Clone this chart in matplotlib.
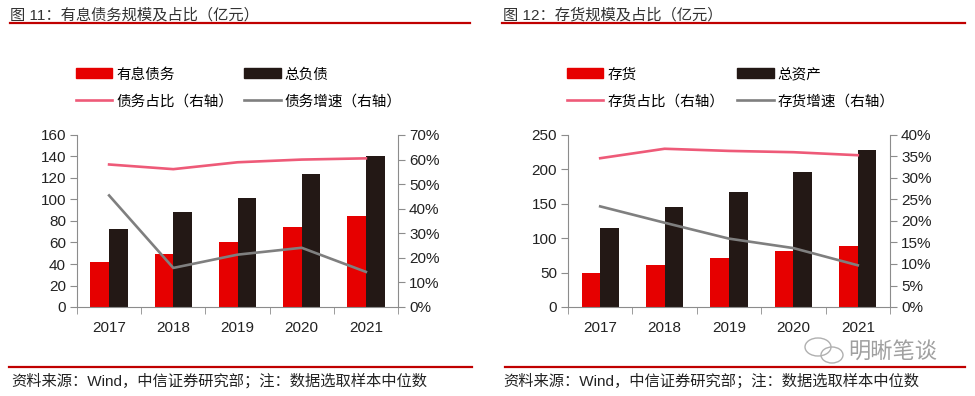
import numpy as np
import matplotlib
matplotlib.use("Agg")
import matplotlib.pyplot as plt
from matplotlib.patches import Patch, Ellipse
from matplotlib.lines import Line2D
from matplotlib.ticker import FuncFormatter, MultipleLocator

plt.rcParams['font.family'] = ['Liberation Sans', 'Noto Sans CJK SC', 'DejaVu Sans']

# 数据
years = ['2017', '2018', '2019', '2020', '2021']

# 图 11
debt = [42, 49, 60, 74, 84.5]
liab = [73, 88, 101.5, 124, 140]
debt_ratio = [58.0, 56.1, 58.9, 60.0, 60.5]
debt_growth = [45.4, 15.9, 21.3, 24.1, 14.3]

# 图 12
inv = [49.5, 61, 71, 82, 89]
assets = [115.5, 145.5, 167, 195.5, 228]
inv_ratio = [34.6, 36.8, 36.3, 36.0, 35.3]
inv_growth = [23.4, 19.6, 15.9, 13.7, 9.7]

RED = '#E60000'
DARK = '#231815'
PINK = '#EE5A78'
GRAY = '#7F7F7F'
AXC = '#8C8C8C'
TITLE_RED = '#C00000'

W, H = 975, 396
fig = plt.figure(figsize=(W / 100, H / 100), dpi=100)


def px(x, y):
    return x / W, 1 - y / H


def panel(x0, x1, bars1, bars2, r1, r2, ymax, ystep, rmax, rstep, names, leg_x, colsp):
    ax = fig.add_axes([x0 / W, 89 / H, (x1 - x0) / W, 172 / H])
    x = np.arange(len(years))
    bw = 0.29
    ax.bar(x - bw / 2, bars1, bw, color=RED, zorder=2)
    ax.bar(x + bw / 2, bars2, bw, color=DARK, zorder=2)
    ax.set_xlim(-0.5, len(years) - 0.5)
    ax.set_ylim(0, ymax)
    ax.yaxis.set_major_locator(MultipleLocator(ystep))
    ax.set_xticks(x)
    ax.set_xticklabels(years)
    ax.set_xticks(np.arange(-0.5, len(years)), minor=True)
    ax.tick_params(axis='x', which='major', length=0, pad=10, labelsize=11, labelcolor='#222222')
    ax.tick_params(axis='x', which='minor', length=5, color=AXC, direction='out')
    ax.tick_params(axis='y', length=5, color=AXC, labelsize=11, pad=3, labelcolor='#222222')
    for s in ['left', 'bottom']:
        ax.spines[s].set_color(AXC)
    ax.spines['top'].set_visible(False)
    ax.spines['right'].set_visible(False)

    ax2 = ax.twinx()
    ax2.plot(x, r1, color=PINK, lw=1.9, zorder=3)
    ax2.plot(x, r2, color=GRAY, lw=1.9, zorder=3)
    ax2.set_ylim(0, rmax)
    ax2.yaxis.set_major_locator(MultipleLocator(rstep))
    ax2.yaxis.set_major_formatter(FuncFormatter(lambda v, p: f'{v:.0f}%'))
    ax2.tick_params(axis='y', length=5, color=AXC, labelsize=11, pad=3, labelcolor='#222222')
    ax2.spines['top'].set_visible(False)
    ax2.spines['left'].set_visible(False)
    ax2.spines['bottom'].set_visible(False)
    ax2.spines['right'].set_color(AXC)

    handles = [Patch(color=RED), Line2D([], [], color=PINK, lw=1.9),
               Patch(color=DARK), Line2D([], [], color=GRAY, lw=1.9)]
    labels = [names[0], names[2], names[1], names[3]]
    fig.legend(handles, labels, loc='center left', bbox_to_anchor=px(leg_x, 88),
               ncol=2, frameon=False, fontsize=10.5, handlelength=2.5,
               handletextpad=0.25, columnspacing=colsp, labelspacing=0.9,
               borderpad=0, borderaxespad=0)
    return ax


panel(77, 398, debt, liab, debt_ratio, debt_growth, 160, 20, 70, 10,
      ['有息债务', '总负债', '债务占比（右轴）', '债务增速（右轴）'], 76, 0.75)
panel(568, 890, inv, assets, inv_ratio, inv_growth, 250, 50, 40, 5,
      ['存货', '总资产', '存货占比（右轴）', '存货增速（右轴）'], 567, 0.9)

# 标题与底部说明
fig.text(*px(10, 15), '图 11：有息债务规模及占比（亿元）', fontsize=11, va='center', color='#333333')
fig.text(*px(503, 15), '图 12：存货规模及占比（亿元）', fontsize=11, va='center', color='#333333')
for a, b in [(10, 470), (502, 965)]:
    fig.add_artist(Line2D([a / W, b / W], [1 - 23 / H] * 2, color=TITLE_RED, lw=1.6))
for a, b in [(9, 472), (505, 965)]:
    fig.add_artist(Line2D([a / W, b / W], [1 - 367 / H] * 2, color=TITLE_RED, lw=1.6))
note = '资料来源：Wind，中信证券研究部；注：数据选取样本中位数'
fig.text(*px(11, 381), note, fontsize=11, va='center', color='#222222')
fig.text(*px(503, 381), note, fontsize=11, va='center', color='#222222')

# 水印
fig.text(*px(848, 352), '明晰笔谈', fontsize=16, va='center', ha='left', color='#A0A0A0',
         fontweight='light')
for cx, cy, w, h in [(818, 347, 26, 18), (832, 355, 22, 16)]:
    fig.add_artist(Ellipse(px(cx, cy), w / W, h / H, fill=False, ec='#B0B0B0', lw=1.0,
                           transform=fig.transFigure))

fig.savefig('out.png', dpi=100)
